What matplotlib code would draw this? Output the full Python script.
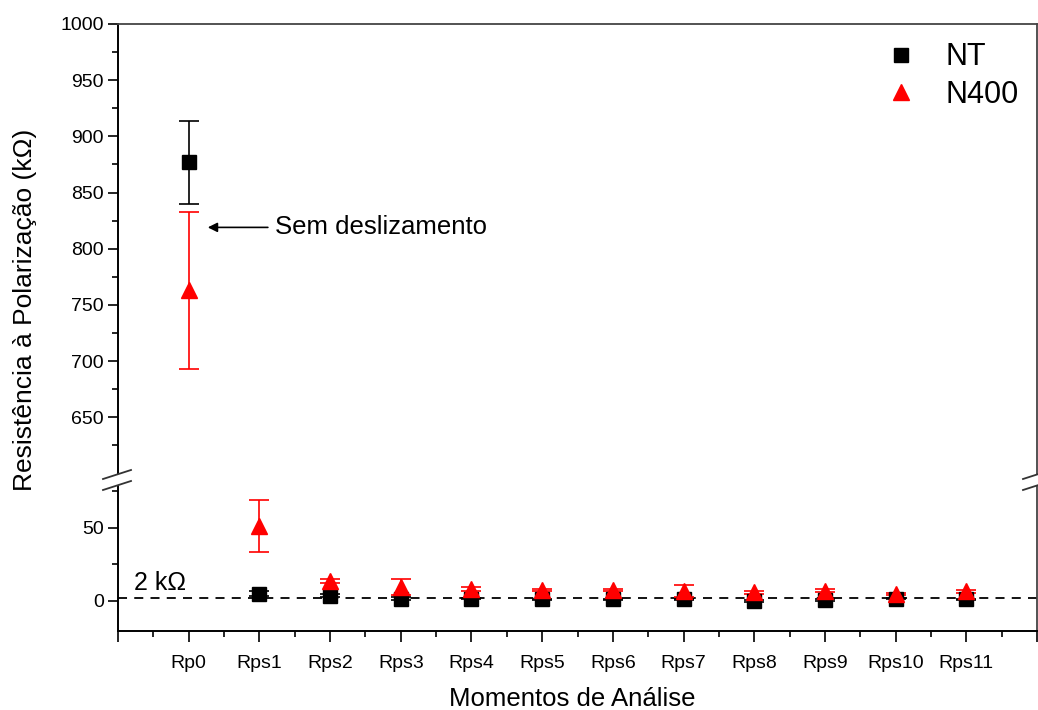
import matplotlib
matplotlib.use("Agg")
import matplotlib.pyplot as plt
from matplotlib.lines import Line2D
from matplotlib.patches import Polygon
import numpy as np

plt.rcParams['font.family'] = ['Liberation Sans', 'DejaVu Sans']

categories = ["Rp0", "Rps1", "Rps2", "Rps3", "Rps4", "Rps5", "Rps6",
              "Rps7", "Rps8", "Rps9", "Rps10", "Rps11"]
nt_values = [877, 4.7, 3.3, 1.3, 1.3, 0.8, 0.8, 0.8, -0.4, 0.2, 1.2, 0.8]
nt_errors = [37, 1.5, 1.0, 1.0, 0.5, 0.5, 0.5, 0.5, 0.5, 0.5, 0.5, 0.5]
n400_values = [763, 51, 13.5, 9.5, 8.0, 7.3, 7.2, 6.5, 5.5, 6.8, 4.5, 6.2]
n400_errors = [70, 18, 1.5, 5.5, 1.5, 0.8, 0.8, 4.0, 1.0, 1.0, 0.8, 0.8]
ref_level = 2
ref_label = "2 k\u03A9"
top_yticks = [650, 700, 750, 800, 850, 900, 950, 1000]
bottom_yticks = [0, 50]

W, H = 1038, 710
fig = plt.figure(figsize=(W / 100, H / 100), dpi=100)

x_left, x_right = 118, 1037
y_top, y_break, y_bottom = 24, 480, 631

def fx(px):
    return px / W

def fy(py):
    return 1 - py / H

ax_top = fig.add_axes([fx(x_left), fy(y_break), fx(x_right - x_left), (y_break - y_top) / H])
ax_bot = fig.add_axes([fx(x_left), fy(y_bottom), fx(x_right - x_left), (y_bottom - y_break) / H],
                      sharex=ax_top)

x = np.arange(len(categories))

for ax in (ax_top, ax_bot):
    ax.errorbar(x, nt_values, yerr=nt_errors, fmt='none', ecolor='black',
                elinewidth=1.2, capsize=7, capthick=1.2, zorder=2)
    ax.errorbar(x, n400_values, yerr=n400_errors, fmt='none', ecolor='red',
                elinewidth=1.2, capsize=7, capthick=1.2, zorder=2)
    ax.plot(x, nt_values, linestyle='none', marker='s', color='black',
            markersize=10, zorder=3)
    ax.plot(x, n400_values, linestyle='none', marker='^', color='red',
            markersize=12, zorder=4)
    ax.axhline(ref_level, color='black', linestyle=(0, (5, 4)), linewidth=1.3, zorder=1)
    ax.set_xlim(-1, 12)
    for s in ('left', 'bottom'):
        ax.spines[s].set_color('black')
        ax.spines[s].set_linewidth(1.4)
    for s in ('top', 'right'):
        ax.spines[s].set_color('#444444')
        ax.spines[s].set_linewidth(1.3)

ax_top.set_ylim(594.2, 1000)
ax_bot.set_ylim(-20.9, 82.6)

ax_top.spines['bottom'].set_visible(False)
ax_bot.spines['top'].set_visible(False)

ax_top.set_yticks(top_yticks)
ax_top.set_yticks([v + 25 for v in top_yticks[:-1]] + [625], minor=True)
ax_bot.set_yticks(bottom_yticks)
ax_bot.set_yticks([25, 75], minor=True)

ax_bot.set_xticks(np.arange(-1, 13))
ax_bot.set_xticklabels([""] + categories + [""])
ax_bot.set_xticks(np.arange(-0.5, 12.5, 1.0), minor=True)

ax_top.tick_params(axis='x', which='both', bottom=False, top=False, labelbottom=False)
for ax in (ax_top, ax_bot):
    ax.tick_params(axis='y', which='major', direction='out', length=7, width=1.2,
                   labelsize=14, pad=3, right=False)
    ax.tick_params(axis='y', which='minor', direction='out', length=4, width=1.2, right=False)
ax_bot.tick_params(axis='x', which='major', direction='out', length=8, width=1.2,
                   labelsize=14, pad=9, top=False)
ax_bot.tick_params(axis='x', which='minor', direction='out', length=4, width=1.2, top=False)

fig.text(fx(572), fy(699), "Momentos de An\u00e1lise", fontsize=18.5, ha='center', va='center')
fig.text(fx(25), fy(310), "Resist\u00eancia \u00e0 Polariza\u00e7\u00e3o (k\u03A9)",
         rotation=90, va='center', ha='center', fontsize=19)

ax_bot.text(-0.78, ref_level + 1.5, ref_label, fontsize=18, ha='left', va='bottom')

ax_top.annotate("", xy=(0.27, 819), xytext=(1.12, 819),
                arrowprops=dict(arrowstyle='-|>', color='black', lw=1.2,
                                mutation_scale=14, shrinkA=0, shrinkB=0))
ax_top.text(1.22, 819, "Sem deslizamento", fontsize=18.5, ha='left', va='center')

handles = [Line2D([], [], linestyle='none', marker='s', color='black', markersize=10),
           Line2D([], [], linestyle='none', marker='^', color='red', markersize=12)]
ax_top.legend(handles, ["NT", "N400"], loc='upper right', frameon=False, fontsize=22,
              handletextpad=0.45, labelspacing=0.25, borderaxespad=0.2,
              bbox_to_anchor=(1.0, 1.0))

# break marks
for x0, x1 in ((103, 131), (1023, 1045)):
    dy = 9 * (x1 - x0) / 28
    poly = Polygon([(fx(x0), fy(479)), (fx(x1), fy(479 - dy)),
                    (fx(x1), fy(490 - dy)), (fx(x0), fy(490))],
                   closed=True, transform=fig.transFigure, facecolor='white',
                   edgecolor='none', zorder=10)
    fig.add_artist(poly)
    for yy in (479, 490):
        fig.add_artist(Line2D([fx(x0), fx(x1)], [fy(yy), fy(yy - dy)],
                              transform=fig.transFigure, color='#333333', lw=1.3, zorder=11))

fig.savefig("out.png", dpi=100)
